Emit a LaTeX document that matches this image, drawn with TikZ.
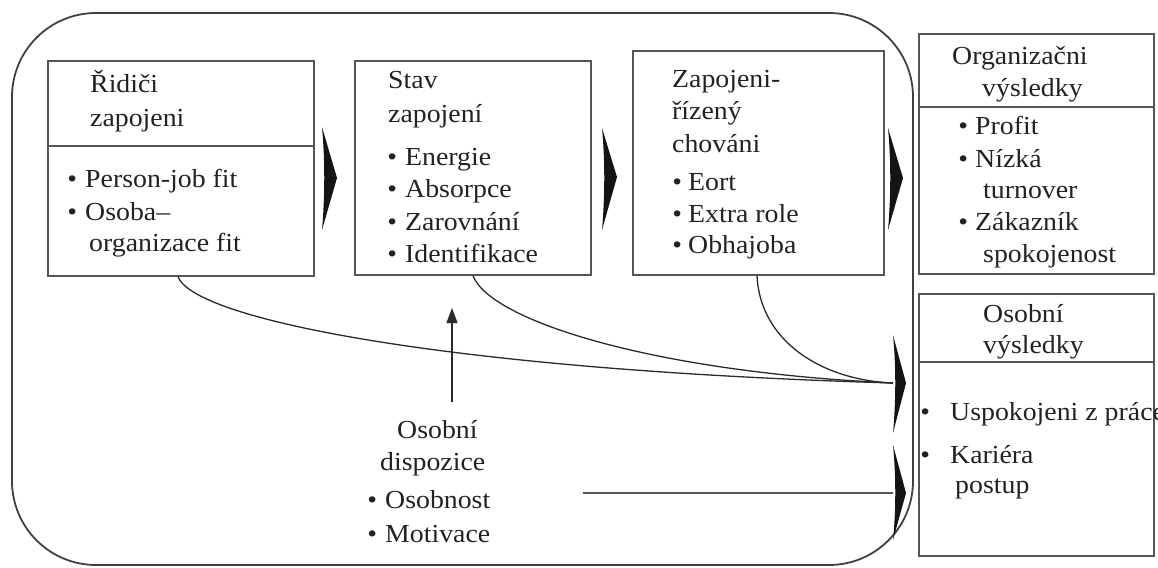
\documentclass[tikz,border=0pt]{standalone}
\usepackage{fontspec}
\setmainfont[FakeStretch=1.07]{Liberation Serif}
\usetikzlibrary{arrows.meta}
\definecolor{boxcol}{HTML}{555555}
\definecolor{outcol}{HTML}{404040}
\definecolor{curvecol}{HTML}{2A2A2A}
\definecolor{txtcol}{HTML}{222222}
\newcommand{\bul}[1]{\llap{\textbullet\hspace{#1}}}
\begin{document}
\begin{tikzpicture}[x=1pt,y=-1pt,
  box/.style={draw=boxcol,line width=1.8pt,anchor=north west,inner sep=0pt},
  divider/.style={draw=boxcol,line width=1.8pt},
  txt/.style={anchor=base west,inner sep=0pt,font=\fontsize{26}{32}\selectfont,text=txtcol},
  link/.style={draw=curvecol,line width=1.3pt},
  head/.style={fill=black!92}]
\useasboundingbox (0,0) rectangle (1158,567);
\clip (0,0) rectangle (1158,567);

% outer frame
\draw[draw=outcol,line width=1.8pt,rounded corners=84pt] (12,13) rectangle (913,565);

% boxes
\node[box,minimum width=266pt,minimum height=215pt] (b1) at (47,60) {};
\node[box,minimum width=236pt,minimum height=214pt] (b2) at (354,60) {};
\node[box,minimum width=251pt,minimum height=224pt] (b3) at (632,50) {};
\node[box,minimum width=235pt,minimum height=240pt] (b4) at (918,33) {};
\node[box,minimum width=235pt,minimum height=262pt] (b5) at (918,293) {};
\draw[divider] (b1.west |- 0,146) -- (b1.east |- 0,146);
\draw[divider] (b4.west |- 0,107) -- (b4.east |- 0,107);
\draw[divider] (b5.west |- 0,362) -- (b5.east |- 0,362);

% big arrow heads
\fill[head] (322,127) -- (337,178) -- (322,230) .. controls (325,195) and (325,160) .. cycle;
\fill[head] (602,128) -- (617,177) -- (602,230) .. controls (605,195) and (605,160) .. cycle;
\fill[head] (888,128) -- (903,178) -- (888,230) .. controls (891,195) and (891,160) .. cycle;
\coordinate (in4) at (893,383);
\coordinate (in5) at (893,493);
\fill[head] (893,335) -- (906,383) -- (893,433) .. controls (896,400) and (896,366) .. cycle;
\fill[head] (893,445) -- (906,493) -- (893,540) .. controls (896,510) and (896,476) .. cycle;

% curved connectors
\draw[link] (178,0 |- b1.south) .. controls (195,320) and (450,370) .. (in4);
\draw[link] (473,0 |- b2.south) .. controls (490,320) and (650,372) .. (in4);
\draw[link] (757,0 |- b3.south) .. controls (760,340) and (820,380) .. (in4);

% personal dispositions arrows
\coordinate (dispTop) at (452,402);
\coordinate (stateIn) at (452,308);
\draw[link,-{Triangle[width=11pt,length=15pt]}] (dispTop) -- (stateIn);
\coordinate (dispRight) at (583,493);
\draw[link,draw=boxcol] (dispRight) -- (in5);

% texts box 1
\node[txt] (t1a) at (90,93) {Řidiči};
\node[txt] (t1b) at (90,126) {zapojeni};
\node[txt] (t1c) at (85,187) {\bul{8pt}Person-job fit};
\node[txt] (t1d) at (85,220) {\bul{8pt}Osoba–};
\node[txt] (t1e) at (89,251) {organizace fit};

% box 2
\node[txt] (t2a) at (388,89) {Stav};
\node[txt] (t2b) at (388,123) {zapojení};
\node[txt] (t2c) at (405,165) {\bul{8pt}Energie};
\node[txt] (t2d) at (405,197) {\bul{8pt}Absorpce};
\node[txt] (t2e) at (405,230) {\bul{8pt}Zarovnání};
\node[txt] (t2f) at (405,262) {\bul{8pt}Identifikace};

% box 3
\node[txt] (t3a) at (672,88) {Zapojeni-};
\node[txt] (t3b) at (672,120) {řízený};
\node[txt] (t3c) at (672,152) {chováni};
\node[txt] (t3d) at (688,190) {\bul{6pt}Eort};
\node[txt] (t3e) at (688,222) {\bul{6pt}Extra role};
\node[txt] (t3f) at (688,253) {\bul{6pt}Obhajoba};

% box 4
\node[txt] (t4a) at (952,65) {Organizačni};
\node[txt] (t4b) at (982,97) {výsledky};
\node[txt] (t4c) at (975,135) {\bul{7pt}Profit};
\node[txt] (t4d) at (975,167) {\bul{7pt}Nízká};
\node[txt] (t4e) at (983,198) {turnover};
\node[txt] (t4f) at (975,230) {\bul{7pt}Zákazník};
\node[txt] (t4g) at (983,262) {spokojenost};

% box 5
\node[txt] (t5a) at (983,322) {Osobní};
\node[txt] (t5b) at (983,353) {výsledky};
\node[txt] (t5c) at (950,420) {\bul{20pt}Uspokojeni z práce};
\node[txt] (t5d) at (950,463) {\bul{20pt}Kariéra};
\node[txt] (t5e) at (955,493) {postup};

% personal dispositions
\node[txt] (t6a) at (397,438) {Osobní};
\node[txt] (t6b) at (380,470) {dispozice};
\node[txt] (t6c) at (385,508) {\bul{8pt}Osobnost};
\node[txt] (t6d) at (385,542) {\bul{8pt}Motivace};
\end{tikzpicture}
\end{document}
